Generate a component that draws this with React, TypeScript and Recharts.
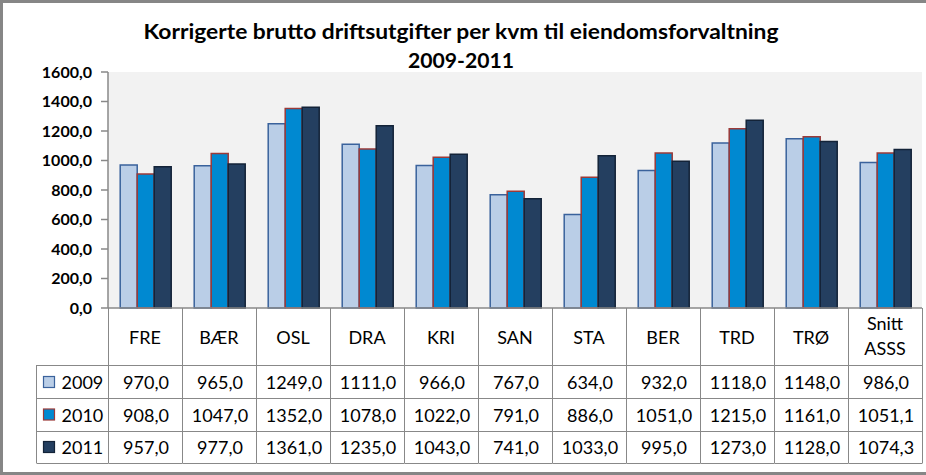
import React from 'react';
import { BarChart, Bar, XAxis, YAxis, CartesianGrid } from 'recharts';

const categories = ['FRE', 'BÆR', 'OSL', 'DRA', 'KRI', 'SAN', 'STA', 'BER', 'TRD', 'TRØ', 'Snitt ASSS'];
const values2009 = [970, 965, 1249, 1111, 966, 767, 634, 932, 1118, 1148, 986];
const values2010 = [908, 1047, 1352, 1078, 1022, 791, 886, 1051, 1215, 1161, 1051.1];
const values2011 = [957, 977, 1361, 1235, 1043, 741, 1033, 995, 1273, 1128, 1074.3];
const seriesNames = ['2009', '2010', '2011'];
const yTicks = [0, 200, 400, 600, 800, 1000, 1200, 1400, 1600];
const titleLines = ['Korrigerte brutto driftsutgifter per kvm til eiendomsforvaltning', '2009-2011'];

const seriesKeys = ['s2009', 's2010', 's2011'];
const seriesValues = [values2009, values2010, values2011];
const seriesStyles = [
  { fill: '#BACEE7', stroke: '#3A629C' },
  { fill: '#0089D1', stroke: '#9C3A38' },
  { fill: '#243F60', stroke: '#132338' },
];

const data = categories.map((name, i) => {
  const row: any = { name };
  seriesKeys.forEach((k, s) => {
    row[k] = seriesValues[s][i];
  });
  return row;
});

const W = 926;
const H = 475;
const M = { top: 72, right: 4, bottom: 12, left: 0 };
const Y_AXIS_W = 108;
const X_AXIS_H = 155;
const PLOT_W = W - M.left - M.right - Y_AXIS_W;
const BAND = PLOT_W / categories.length;
const LEGEND_W = 72;
const FONT = 'Lato, "Open Sans", sans-serif';
const GRID = '#888888';

const fmt = (v: number) => v.toFixed(1).replace('.', ',');

const ROW_LINES = [57, 90, 122.5, 155];
const ROW_CENTERS = [74, 106.5, 139];
const TITLE_WIDTHS = [635, 106];
const TITLE_BASELINES = [38.5, 67.5];

const TableTick = (props: any) => {
  const { x, y, payload, index } = props;
  const left = Math.round(x - BAND / 2) + 0.5;
  const right = Math.round(x + BAND / 2) + 0.5;
  const labelLines = String(payload.value).split(' ');
  const lineStyle = { stroke: GRID, strokeWidth: 1 };
  const i = index as number;
  return (
    <g>
      <line x1={left} x2={left} y1={y} y2={y + X_AXIS_H} {...lineStyle} />
      <line x1={right} x2={right} y1={y} y2={y + X_AXIS_H} {...lineStyle} />
      {ROW_LINES.map((r) => (
        <line key={r} x1={left} x2={right} y1={Math.round(y + r) + 0.5} y2={Math.round(y + r) + 0.5} {...lineStyle} />
      ))}
      {labelLines.length === 1 ? (
        <text x={x} y={y + 28.5} textAnchor="middle" dominantBaseline="central" fontFamily={FONT} fontSize={18} fill="#000">
          {labelLines[0]}
        </text>
      ) : (
        labelLines.map((t, k) => (
          <text key={k} x={x} y={y + 15 + k * 25} textAnchor="middle" dominantBaseline="central" fontFamily={FONT} fontSize={18} fill="#000">
            {t}
          </text>
        ))
      )}
      {seriesValues.map((vals, s) => (
        <text key={s} x={x + 1} y={y + ROW_CENTERS[s]} textAnchor="middle" dominantBaseline="central" fontFamily={FONT} fontSize={18} fill="#000">
          {fmt(vals[i])}
        </text>
      ))}
      {i === 0 && (
        <g>
          <line x1={left - LEGEND_W} x2={left - LEGEND_W} y1={y + ROW_LINES[0]} y2={y + X_AXIS_H} {...lineStyle} />
          {ROW_LINES.map((r) => (
            <line key={r} x1={left - LEGEND_W} x2={left} y1={Math.round(y + r) + 0.5} y2={Math.round(y + r) + 0.5} {...lineStyle} />
          ))}
          {seriesNames.map((n, s) => (
            <g key={n}>
              <rect
                x={left - LEGEND_W + 7}
                y={y + ROW_CENTERS[s] - 5.5}
                width={11}
                height={11}
                fill={seriesStyles[s].fill}
                stroke={seriesStyles[s].stroke}
                strokeWidth={1.2}
              />
              <text x={left - LEGEND_W + 25} y={y + ROW_CENTERS[s]} dominantBaseline="central" fontFamily={FONT} fontSize={18} fill="#000">
                {n}
              </text>
            </g>
          ))}
        </g>
      )}
    </g>
  );
};

export default function App() {
  return (
    <div style={{ position: 'absolute', left: 0, top: 0, width: W, height: H, overflow: 'hidden', background: '#fff' }}>
      <BarChart width={W} height={H} data={data} margin={M} barCategoryGap="16.5%" barGap={0}>
        <CartesianGrid fill="#F2F2F2" horizontal={false} vertical={false} stroke="none" />
        <XAxis
          dataKey="name"
          height={X_AXIS_H}
          interval={0}
          tickSize={0}
          tickMargin={0}
          tickLine={false}
          axisLine={{ stroke: GRID, strokeWidth: 1.5 }}
          tick={<TableTick />}
        />
        <YAxis
          width={Y_AXIS_W}
          domain={[0, 1600]}
          ticks={yTicks}
          interval={0}
          tickFormatter={(v: number) => fmt(v)}
          tickSize={7}
          tickMargin={9}
          axisLine={{ stroke: GRID, strokeWidth: 1.5 }}
          tickLine={{ stroke: GRID, strokeWidth: 1.5 }}
          tick={{ fontFamily: FONT, fontSize: 16, fontWeight: 'bold', fill: '#000' }}
        />
        {seriesKeys.map((k, s) => (
          <Bar
            key={k}
            dataKey={k}
            name={seriesNames[s]}
            fill={seriesStyles[s].fill}
            stroke={seriesStyles[s].stroke}
            strokeWidth={1.5}
            isAnimationActive={false}
          />
        ))}
        {titleLines.map((t, k) => (
          <text
            key={k}
            x={461}
            y={TITLE_BASELINES[k]}
            textAnchor="middle"
            fontFamily={FONT}
            fontWeight="bold"
            fontSize={21}
            textLength={TITLE_WIDTHS[k]}
            lengthAdjust="spacingAndGlyphs"
            fill="#000"
          >
            {t}
          </text>
        ))}
      </BarChart>
      <div
        style={{
          position: 'absolute',
          left: 0,
          top: 0,
          width: W + 10,
          height: H,
          border: '3px solid #868686',
          boxSizing: 'border-box',
          pointerEvents: 'none',
        }}
      />
    </div>
  );
}
